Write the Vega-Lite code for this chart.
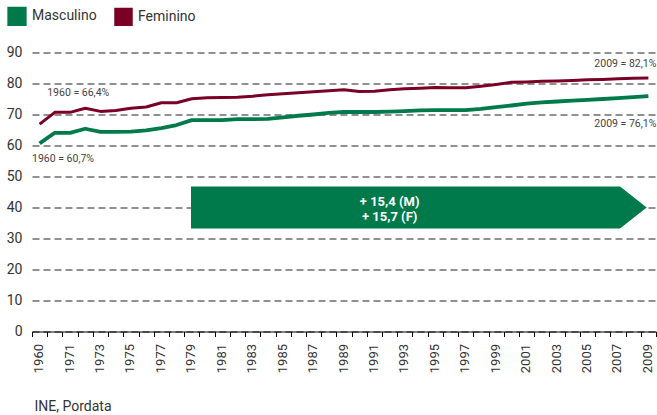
{
  "$schema": "https://vega.github.io/schema/vega-lite/v6.json",
  "width": 624,
  "height": 279,
  "autosize": {"type": "none"},
  "padding": {"left": 32, "top": 52.5, "right": 1, "bottom": 83.5},
  "background": "white",
  "config": {
    "font": "Roboto",
    "view": {"stroke": null}
  },
  "datasets": {
    "series": [
      {"year": 1960, "sex": "Masculino", "value": 60.7},
      {"year": 1970, "sex": "Masculino", "value": 64.1},
      {"year": 1971, "sex": "Masculino", "value": 64.1},
      {"year": 1972, "sex": "Masculino", "value": 65.4},
      {"year": 1973, "sex": "Masculino", "value": 64.4},
      {"year": 1974, "sex": "Masculino", "value": 64.4},
      {"year": 1975, "sex": "Masculino", "value": 64.5},
      {"year": 1976, "sex": "Masculino", "value": 64.9},
      {"year": 1977, "sex": "Masculino", "value": 65.6},
      {"year": 1978, "sex": "Masculino", "value": 66.6},
      {"year": 1979, "sex": "Masculino", "value": 68.2},
      {"year": 1980, "sex": "Masculino", "value": 68.2},
      {"year": 1981, "sex": "Masculino", "value": 68.2},
      {"year": 1982, "sex": "Masculino", "value": 68.5},
      {"year": 1983, "sex": "Masculino", "value": 68.5},
      {"year": 1984, "sex": "Masculino", "value": 68.6},
      {"year": 1985, "sex": "Masculino", "value": 69.1},
      {"year": 1986, "sex": "Masculino", "value": 69.6},
      {"year": 1987, "sex": "Masculino", "value": 70.0},
      {"year": 1988, "sex": "Masculino", "value": 70.5},
      {"year": 1989, "sex": "Masculino", "value": 70.8},
      {"year": 1990, "sex": "Masculino", "value": 70.8},
      {"year": 1991, "sex": "Masculino", "value": 70.8},
      {"year": 1992, "sex": "Masculino", "value": 70.9},
      {"year": 1993, "sex": "Masculino", "value": 71.1},
      {"year": 1994, "sex": "Masculino", "value": 71.3},
      {"year": 1995, "sex": "Masculino", "value": 71.4},
      {"year": 1996, "sex": "Masculino", "value": 71.4},
      {"year": 1997, "sex": "Masculino", "value": 71.4},
      {"year": 1998, "sex": "Masculino", "value": 71.8},
      {"year": 1999, "sex": "Masculino", "value": 72.4},
      {"year": 2000, "sex": "Masculino", "value": 72.9},
      {"year": 2001, "sex": "Masculino", "value": 73.5},
      {"year": 2002, "sex": "Masculino", "value": 73.9},
      {"year": 2003, "sex": "Masculino", "value": 74.2},
      {"year": 2004, "sex": "Masculino", "value": 74.5},
      {"year": 2005, "sex": "Masculino", "value": 74.7},
      {"year": 2006, "sex": "Masculino", "value": 75.0},
      {"year": 2007, "sex": "Masculino", "value": 75.3},
      {"year": 2008, "sex": "Masculino", "value": 75.6},
      {"year": 2009, "sex": "Masculino", "value": 75.9},
      {"year": 1960, "sex": "Feminino", "value": 66.9},
      {"year": 1970, "sex": "Feminino", "value": 70.7},
      {"year": 1971, "sex": "Feminino", "value": 70.7},
      {"year": 1972, "sex": "Feminino", "value": 72.0},
      {"year": 1973, "sex": "Feminino", "value": 71.0},
      {"year": 1974, "sex": "Feminino", "value": 71.3},
      {"year": 1975, "sex": "Feminino", "value": 72.0},
      {"year": 1976, "sex": "Feminino", "value": 72.4},
      {"year": 1977, "sex": "Feminino", "value": 73.8},
      {"year": 1978, "sex": "Feminino", "value": 73.8},
      {"year": 1979, "sex": "Feminino", "value": 75.1},
      {"year": 1980, "sex": "Feminino", "value": 75.4},
      {"year": 1981, "sex": "Feminino", "value": 75.5},
      {"year": 1982, "sex": "Feminino", "value": 75.6},
      {"year": 1983, "sex": "Feminino", "value": 75.9},
      {"year": 1984, "sex": "Feminino", "value": 76.4},
      {"year": 1985, "sex": "Feminino", "value": 76.7},
      {"year": 1986, "sex": "Feminino", "value": 77.0},
      {"year": 1987, "sex": "Feminino", "value": 77.3},
      {"year": 1988, "sex": "Feminino", "value": 77.7},
      {"year": 1989, "sex": "Feminino", "value": 78.0},
      {"year": 1990, "sex": "Feminino", "value": 77.4},
      {"year": 1991, "sex": "Feminino", "value": 77.5},
      {"year": 1992, "sex": "Feminino", "value": 78.0},
      {"year": 1993, "sex": "Feminino", "value": 78.3},
      {"year": 1994, "sex": "Feminino", "value": 78.5},
      {"year": 1995, "sex": "Feminino", "value": 78.7},
      {"year": 1996, "sex": "Feminino", "value": 78.6},
      {"year": 1997, "sex": "Feminino", "value": 78.6},
      {"year": 1998, "sex": "Feminino", "value": 79.1},
      {"year": 1999, "sex": "Feminino", "value": 79.7},
      {"year": 2000, "sex": "Feminino", "value": 80.4},
      {"year": 2001, "sex": "Feminino", "value": 80.5},
      {"year": 2002, "sex": "Feminino", "value": 80.7},
      {"year": 2003, "sex": "Feminino", "value": 80.8},
      {"year": 2004, "sex": "Feminino", "value": 81.0},
      {"year": 2005, "sex": "Feminino", "value": 81.2},
      {"year": 2006, "sex": "Feminino", "value": 81.3},
      {"year": 2007, "sex": "Feminino", "value": 81.5},
      {"year": 2008, "sex": "Feminino", "value": 81.7},
      {"year": 2009, "sex": "Feminino", "value": 81.8}
    ],
    "notesLeft": [
      {"year": 1960, "value": 76.8, "label": "1960 = 66,4%", "shift": 8.5},
      {"year": 1960, "value": 55.7, "label": "1960 = 60,7%", "shift": 1}
    ],
    "notesRight": [
      {"year": 2009, "value": 86.2, "label": "2009 = 82,1%"},
      {"year": 2009, "value": 66.9, "label": "2009 = 76,1%"}
    ],
    "arrow": [
      {"year": 1992, "value": 40, "label": "+ 15,4 (M)\n+ 15,7 (F)"}
    ]
  },
  "encoding": {
    "x": {
      "field": "year",
      "type": "ordinal",
      "scale": {"type": "band", "paddingInner": 0, "paddingOuter": 0},
      "axis": {
        "tickBand": "extent",
        "labelAngle": -90,
        "labelExpr": "(datum.value == 1960 || datum.value % 2 == 1) ? datum.label : ''",
        "labelFontSize": 13,
        "labelColor": "#333333",
        "labelPadding": 7,
        "labelOffset": -1,
        "domainColor": "#000000",
        "domainWidth": 1,
        "tickColor": "#000000",
        "tickSize": 5,
        "tickWidth": 1,
        "grid": false,
        "title": "INE, Pordata",
        "titleX": 2,
        "titleY": 79,
        "titleAlign": "left",
        "titleBaseline": "alphabetic",
        "titleFontSize": 14,
        "titleFontWeight": "normal",
        "titleColor": "#333333"
      }
    },
    "y": {
      "field": "value",
      "type": "quantitative",
      "scale": {"domain": [0, 90], "nice": false, "zero": true},
      "axis": {
        "values": [0, 10, 20, 30, 40, 50, 60, 70, 80, 90],
        "title": null,
        "domain": false,
        "ticks": false,
        "labelFontSize": 14,
        "labelColor": "#333333",
        "labelPadding": 10,
        "grid": true,
        "gridColor": "#222222",
        "gridDash": [7, 4],
        "gridWidth": 1
      }
    }
  },
  "layer": [
    {
      "data": {"name": "arrow"},
      "mark": {
        "type": "point",
        "shape": "M-9.46,-1L10.97,-1L12.24,0L10.97,1L-9.46,1Z",
        "size": 1764,
        "filled": true,
        "color": "#007A4B",
        "opacity": 1,
        "strokeWidth": 0
      }
    },
    {
      "data": {"name": "arrow"},
      "mark": {
        "type": "text",
        "lineBreak": "\n",
        "lineHeight": 15,
        "fontSize": 13,
        "fontWeight": "bold",
        "color": "#ffffff",
        "align": "center",
        "baseline": "middle",
        "dy": -6
      },
      "encoding": {"text": {"field": "label"}}
    },
    {
      "data": {"name": "series"},
      "mark": {"type": "line", "strokeJoin": "round"},
      "encoding": {
        "color": {
          "field": "sex",
          "type": "nominal",
          "scale": {"domain": ["Masculino", "Feminino"], "range": ["#007A4B", "#7A0026"]},
          "legend": {
            "title": null,
            "orient": "none",
            "direction": "horizontal",
            "legendX": -25,
            "legendY": -46.5,
            "padding": 0,
            "symbolType": "square",
            "symbolSize": 240,
            "symbolStrokeWidth": 0,
            "labelFontSize": 14,
            "labelColor": "#333333",
            "labelOffset": 5,
            "columnPadding": 12,
            "encode": {
              "symbols": {
                "update": {
                  "fill": {"scale": "color", "field": "value"},
                  "fillOpacity": {"value": 1},
                  "strokeWidth": {"value": 0}
                }
              }
            }
          }
        },
        "strokeWidth": {
          "field": "sex",
          "type": "nominal",
          "scale": {"domain": ["Masculino", "Feminino"], "range": [3.8, 3]},
          "legend": null
        }
      }
    },
    {
      "data": {"name": "notesLeft"},
      "mark": {"type": "text", "align": "left", "baseline": "middle", "fontSize": 10.5, "color": "#444444"},
      "encoding": {
        "text": {"field": "label"},
        "xOffset": {"field": "shift", "type": "quantitative", "scale": {"type": "identity"}}
      }
    },
    {
      "data": {"name": "notesRight"},
      "mark": {"type": "text", "align": "right", "baseline": "middle", "fontSize": 10.5, "color": "#444444", "dx": 8},
      "encoding": {"text": {"field": "label"}}
    }
  ]
}
